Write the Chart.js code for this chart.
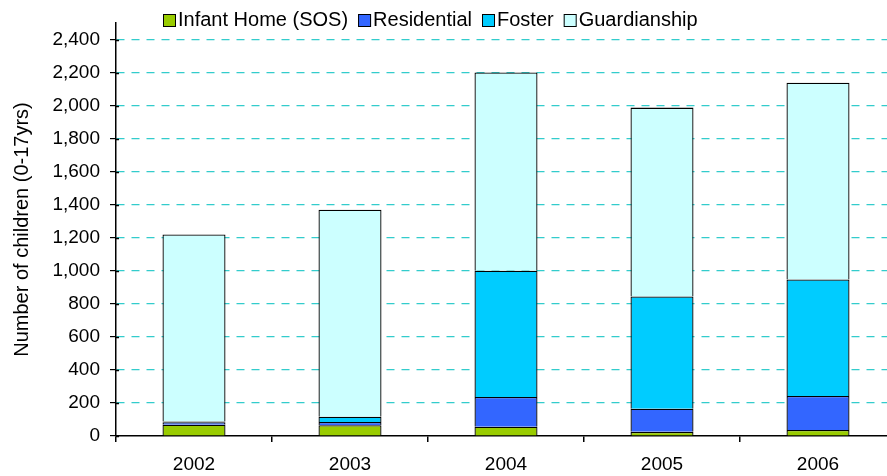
<!DOCTYPE html>
<html>
<head>
<meta charset="utf-8">
<script src="https://cdn.jsdelivr.net/npm/chart.js@4/dist/chart.umd.min.js"></script>
<style>
html,body{margin:0;padding:0;background:#fff;overflow:hidden;}
#wrap{width:887px;height:476px;overflow:hidden;position:relative;}
canvas{position:absolute;left:0;top:0;}
</style>
</head>
<body>
<div id="wrap"><canvas id="c" width="900" height="476"></canvas></div>
<script>
const categories = ['2002', '2003', '2004', '2005', '2006'];
const infantHome = [68, 65, 56, 25, 36];
const residential = [15, 20, 180, 140, 206];
const foster = [5, 32, 764, 680, 705];
const guardianship = [1132, 1253, 1200, 1143, 1192];
const seriesNames = ['Infant Home (SOS)', 'Residential', 'Foster', 'Guardianship'];
const yTickValues = [0, 200, 400, 600, 800, 1000, 1200, 1400, 1600, 1800, 2000, 2200, 2400];

const FONT = 'Liberation Sans, Arial, sans-serif';
const colors = ['#99CC00', '#3366FF', '#00CCFF', '#CCFFFF'];
const seriesData = [infantHome, residential, foster, guardianship];

const legendPlugin = {
  id: 'customLegend',
  afterDraw(chart) {
    const ctx = chart.ctx;
    ctx.save();
    ctx.font = '20px ' + FONT;
    ctx.textBaseline = 'middle';
    ctx.textAlign = 'left';
    let x = 163;
    const yc = 20.5;
    const box = 13;
    chart.data.datasets.forEach(ds => {
      ctx.fillStyle = ds.backgroundColor;
      ctx.fillRect(x, yc - box / 2, box, box);
      ctx.strokeStyle = '#000';
      ctx.lineWidth = 1;
      ctx.strokeRect(x + 0.5, yc - box / 2 + 0.5, box - 1, box - 1);
      ctx.fillStyle = '#000';
      ctx.fillText(ds.label, x + box + 2, yc);
      x += box + 2 + ctx.measureText(ds.label).width + 10;
    });
    // inner part of the y-axis tick marks (crossing ticks)
    const ys = chart.scales.y;
    ctx.strokeStyle = '#000';
    ctx.lineWidth = 1.5;
    ys.ticks.forEach(t => {
      const py = Math.round(ys.getPixelForValue(t.value)) + 0.5;
      ctx.beginPath();
      ctx.moveTo(ys.right, py);
      ctx.lineTo(ys.right + 3, py);
      ctx.stroke();
    });
    ctx.restore();
  }
};

new Chart(document.getElementById('c'), {
  type: 'bar',
  data: {
    labels: categories,
    datasets: seriesNames.map((n, i) => ({
      label: n,
      data: seriesData[i],
      backgroundColor: colors[i],
      borderColor: '#000',
      borderWidth: 1.3,
      categoryPercentage: 1,
      barPercentage: 0.404
    }))
  },
  options: {
    responsive: false,
    animation: false,
    devicePixelRatio: 1,
    layout: { padding: { top: 23, right: 4, bottom: 0, left: 0 } },
    plugins: { legend: { display: false }, tooltip: { enabled: false } },
    scales: {
      x: {
        stacked: true,
        afterFit(s) { s.height = 40; },
        grid: { drawOnChartArea: false, color: '#000', tickLength: 6, lineWidth: 1.5 },
        border: { color: '#000', width: 1.5 },
        ticks: { color: '#000', font: { family: FONT, size: 19 }, padding: 11, maxRotation: 0 }
      },
      y: {
        stacked: true,
        min: 0,
        max: 2500,
        afterFit(s) { s.width = 116; },
        afterBuildTicks(s) { s.ticks = yTickValues.map(v => ({ value: v })); },
        grid: {
          color: c => (c.tick && c.tick.value === 0) ? 'rgba(0,0,0,0)' : '#33CCCC',
          tickColor: '#000',
          tickLength: 6,
          lineWidth: 1.2
        },
        border: { color: '#000', width: 1.5, dash: [8, 7] },
        ticks: {
          color: '#000',
          padding: 10,
          font: { family: FONT, size: 19 },
          callback: v => v.toLocaleString('en-US')
        },
        title: {
          display: true,
          text: 'Number of children (0-17yrs)',
          color: '#000',
          font: { family: FONT, size: 20 },
          padding: { top: 10, bottom: 0 }
        }
      }
    }
  },
  plugins: [legendPlugin]
});
</script>
</body>
</html>
